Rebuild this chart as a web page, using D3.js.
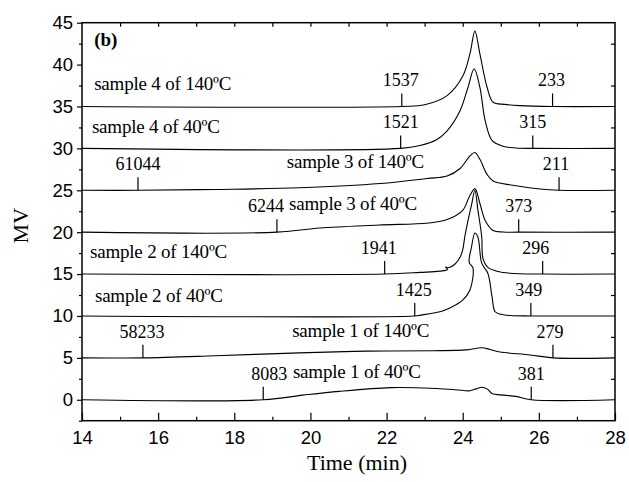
<!DOCTYPE html>
<html lang="en">
<head>
    <meta charset="UTF-8">
    <title>GPC traces</title>
    <script src="https://cdn.jsdelivr.net/npm/d3@7"></script>
    <style>
        html, body {
            margin: 0;
            padding: 0;
            background: #fff;
        }
        .trace {
            fill: none;
            stroke: #000;
            stroke-width: 1.1px;
        }
        .marker {
            stroke: #000;
            stroke-width: 1.2px;
        }
        .frame {
            fill: none;
            stroke: #000;
            stroke-width: 1.5px;
        }
        .axis path {
            display: none;
        }
        .axis line {
            stroke: #000;
            stroke-width: 1.2px;
        }
        .axis text {
            font-family: "Liberation Sans", Arial, sans-serif;
            font-size: 18.5px;
            fill: #000;
        }
        .lbl {
            font-family: "Liberation Serif", "Times New Roman", serif;
            font-size: 18px;
            fill: #000;
        }
        .name {
            font-size: 19px;
            letter-spacing: -0.2px;
        }
    </style>
</head>
<body>
<script>
    // traces: [time (min), MV], stacked with 5 MV offsets
    const s1_40 = [[14, 0], [18.76, 0], [19.8, 0.55], [20.75, 1.0], [22.1, 1.45], [23.0, 1.4], [23.8, 1.2],
        [24.19, 1.07], [24.35, 1.3], [24.5, 1.5], [24.64, 1.3], [24.77, 0.75], [25.08, 0.55], [25.4, 0.4],
        [25.8, 0], [28, 0]];
    const s1_140 = [[14, 5], [15.6, 5], [17.5, 5.25], [19.7, 5.6], [21.5, 5.8], [23.2, 5.85], [24.1, 5.95],
        [24.5, 6.2], [24.72, 6.0], [24.98, 5.7], [25.77, 5.35], [26.37, 5], [28, 5]];
    const s2_40 = [[14, 10], [22.74, 10], [22.9, 10.1], [23.4, 10.5], [23.66, 10.95], [24.0, 11.9], [24.19, 13.1],
        [24.27, 15.7], [24.17, 16.4], [24.23, 18.2], [24.32, 19.9], [24.4, 19.4], [24.5, 16.3], [24.66, 15.1],
        [24.77, 12.3], [24.85, 10.5], [25.0, 10.2], [25.24, 10.05], [25.79, 10], [28, 10]];
    const s2_140 = [[14, 15], [21.95, 15], [22.88, 15.2], [23.4, 15.35], [23.6, 15.55], [23.55, 15.85],
        [23.63, 15.75], [23.8, 16.2], [23.93, 17.0], [24.0, 17.9], [24.06, 19.6], [24.14, 21.4], [24.24, 23.45],
        [24.32, 25.0], [24.4, 22.6], [24.5, 19.4], [24.53, 16.9], [24.66, 15.8], [24.93, 15.3], [25.24, 15.1],
        [26.1, 15], [28, 15]];
    const s3_40 = [[14, 20], [19.12, 20], [20.25, 20.5], [21.8, 20.85], [23.1, 21.1], [23.59, 21.5], [24.0, 22.6],
        [24.17, 24.2], [24.32, 25.2], [24.45, 23.45], [24.59, 21.4], [24.8, 20.2], [25.06, 20.02], [25.47, 20],
        [28, 20]];
    const s3_140 = [[14, 25], [15.47, 25], [17.5, 25.1], [19.73, 25.3], [21.83, 25.8], [23.06, 26.4], [23.59, 26.7],
        [23.93, 27.6], [24.19, 29.1], [24.32, 29.5], [24.45, 28.7], [24.64, 26.9], [24.8, 26.1], [25.32, 25.6],
        [26.03, 25.15], [26.53, 25], [28, 25]];
    const s4_40 = [[14, 30], [22.37, 30], [22.88, 30.35], [23.3, 31.0], [23.59, 32.1], [23.93, 34.5], [24.14, 37.3],
        [24.3, 39.5], [24.45, 37.3], [24.59, 33.3], [24.77, 30.95], [25.06, 30.25], [25.4, 30.05], [25.84, 30],
        [28, 30]];
    const s4_140 = [[14, 35], [22.4, 35], [23.0, 35.2], [23.59, 36.3], [24.01, 38.7], [24.19, 41.3], [24.32, 44.0],
        [24.45, 41.3], [24.64, 37.3], [24.8, 35.5], [25.1, 35.25], [25.5, 35.1], [26.36, 35], [28, 35]];

    const traces = [s1_40, s1_140, s2_40, s2_140, s3_40, s3_140, s4_40, s4_140];
    const baselines = [0, 5, 10, 15, 20, 25, 30, 35];
    const names = ['sample 1 of 40ºC', 'sample 1 of 140ºC', 'sample 2 of 40ºC', 'sample 2 of 140ºC',
        'sample 3 of 40ºC', 'sample 3 of 140ºC', 'sample 4 of 40ºC', 'sample 4 of 140ºC'];
    const nameAt = [[19.54, 2.6], [19.52, 7.5], [14.34, 11.7], [14.21, 16.9],
        [19.44, 22.6], [19.38, 27.7], [14.26, 31.8], [14.32, 37.0]];

    // molecular weight markers (left, right) per trace
    const markerTimes = [[18.76, 25.8], [15.6, 26.37], [22.74, 25.79], [21.95, 26.1],
        [19.12, 25.47], [15.47, 26.53], [22.37, 25.84], [22.4, 26.36]];
    const markerLabels = [['8083', '381'], ['58233', '279'], ['1425', '349'], ['1941', '296'],
        ['6244', '373'], ['61044', '211'], ['1521', '315'], ['1537', '233']];
    const labelShift = [[6, 0], [-1, -3], [-1, -2], [-6, -7], [-11, 0], [0, -3], [0, 0], [-1, -1]];

    const xTicks = [14, 16, 18, 20, 22, 24, 26, 28];
    const yTicks = [0, 5, 10, 15, 20, 25, 30, 35, 40, 45];

    const width = 629, height = 482;
    const svg = d3.select('body').append('svg')
        .attr('width', width)
        .attr('height', height);

    const x = d3.scaleLinear().domain([14, 28]).range([82, 615]);
    const y = d3.scaleLinear().domain([-2.5, 45]).range([420.7, 22.7]);

    // axes
    svg.append('g').classed('axis', true)
        .attr('transform', `translate(0,${y(-2.5)})`)
        .call(d3.axisBottom(x).tickValues(xTicks).tickSize(-8).tickPadding(10));
    svg.append('g').classed('axis', true)
        .attr('transform', `translate(0,${y(-2.5)})`)
        .call(d3.axisBottom(x).tickValues(d3.range(15, 28, 2)).tickSize(-4).tickFormat(''));
    svg.append('g').classed('axis', true)
        .attr('transform', `translate(0,${y(45)})`)
        .call(d3.axisTop(x).tickValues(d3.range(15, 28, 1)).tickSize(-4).tickFormat(''));
    svg.append('g').classed('axis', true)
        .attr('transform', `translate(${x(14)},0)`)
        .call(d3.axisLeft(y).tickValues(yTicks).tickSize(5).tickPadding(4));
    svg.append('g').classed('axis', true)
        .attr('transform', `translate(${x(14)},0)`)
        .call(d3.axisLeft(y).tickValues(d3.range(-2.5, 45, 5)).tickSize(3).tickFormat(''));
    svg.append('g').classed('axis', true)
        .attr('transform', `translate(${x(28)},0)`)
        .call(d3.axisRight(y).tickValues(d3.range(2.5, 45, 5)).tickSize(-4).tickFormat(''));

    svg.append('rect').classed('frame', true)
        .attr('x', x(14)).attr('y', y(45))
        .attr('width', x(28) - x(14)).attr('height', y(-2.5) - y(45));

    const line = d3.line()
        .x(d => x(d[0]))
        .y(d => y(d[1]))
        .curve(d3.curveCatmullRom.alpha(0.5));

    svg.append('g').selectAll('path')
        .data(traces).enter()
        .append('path')
        .classed('trace', true)
        .attr('d', line);

    // marker ticks and values
    const marks = [];
    markerTimes.forEach((pair, i) => {
        pair.forEach((t, j) => {
            marks.push({t: t, base: baselines[i], text: markerLabels[i][j], dx: labelShift[i][j]});
        });
    });

    svg.append('g').selectAll('line')
        .data(marks).enter()
        .append('line')
        .classed('marker', true)
        .attr('x1', d => x(d.t)).attr('x2', d => x(d.t))
        .attr('y1', d => y(d.base)).attr('y2', d => y(d.base) - 13);

    svg.append('g').selectAll('text')
        .data(marks).enter()
        .append('text')
        .classed('lbl', true)
        .attr('x', d => x(d.t) + d.dx)
        .attr('y', d => y(d.base) - 20)
        .attr('text-anchor', 'middle')
        .text(d => d.text);

    svg.append('g').selectAll('text')
        .data(names).enter()
        .append('text')
        .classed('lbl name', true)
        .attr('x', (d, i) => x(nameAt[i][0]))
        .attr('y', (d, i) => y(nameAt[i][1]))
        .text(d => d);

    svg.append('text')
        .classed('lbl', true)
        .attr('x', x(14.32)).attr('y', 46)
        .style('font-size', '19px')
        .style('font-weight', 'bold')
        .text('(b)');

    svg.append('text')
        .classed('lbl', true)
        .attr('x', 357).attr('y', 470)
        .attr('text-anchor', 'middle')
        .style('font-size', '22px')
        .text('Time (min)');

    svg.append('text')
        .classed('lbl', true)
        .attr('transform', `translate(28,${(y(45) + y(-2.5)) / 2 + 4}) rotate(-90)`)
        .attr('text-anchor', 'middle')
        .style('font-size', '22px')
        .text('MV');
</script>
</body>
</html>
